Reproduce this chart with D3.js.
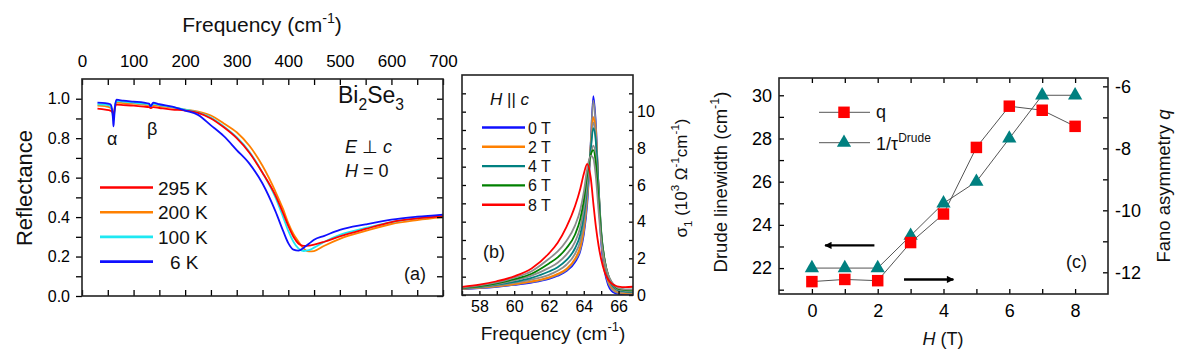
<!DOCTYPE html>
<html>
<head>
<meta charset="utf-8">
<script src="https://cdn.jsdelivr.net/npm/d3@7"></script>
<style>
  body { margin: 0; background: #fff; }
  svg { font-family: "Liberation Sans", Arial, sans-serif; }
</style>
</head>
<body>
<div id="chart--wrapper"></div>
<script>
// (a) reflectance, E perp c, H = 0
const freqA = [30, 45, 55, 58, 60, 61, 62, 64, 67, 80, 100, 120, 130, 133, 135, 138, 150, 175, 200, 225, 250, 275, 300, 325, 350, 375, 390, 400, 410, 420, 430, 440, 450, 470, 500, 550, 600, 650, 700];
const refl295K = [0.95, 0.945, 0.94, 0.935, 0.928, 0.925, 0.93, 0.955, 0.97, 0.968, 0.965, 0.96, 0.957, 0.952, 0.954, 0.957, 0.953, 0.945, 0.94, 0.928, 0.9, 0.855, 0.8, 0.725, 0.625, 0.51, 0.42, 0.355, 0.3, 0.265, 0.254, 0.255, 0.26, 0.275, 0.302, 0.34, 0.375, 0.393, 0.405];
const refl200K = [0.965, 0.962, 0.955, 0.945, 0.92, 0.905, 0.92, 0.965, 0.98, 0.978, 0.975, 0.97, 0.968, 0.958, 0.962, 0.968, 0.963, 0.955, 0.945, 0.935, 0.915, 0.875, 0.83, 0.76, 0.66, 0.53, 0.44, 0.37, 0.315, 0.275, 0.24, 0.226, 0.228, 0.255, 0.29, 0.33, 0.365, 0.385, 0.4];
const refl100K = [0.972, 0.97, 0.963, 0.945, 0.91, 0.89, 0.91, 0.965, 0.988, 0.985, 0.98, 0.975, 0.972, 0.962, 0.965, 0.975, 0.968, 0.958, 0.945, 0.93, 0.905, 0.86, 0.805, 0.73, 0.625, 0.5, 0.4, 0.33, 0.275, 0.24, 0.228, 0.232, 0.245, 0.275, 0.31, 0.345, 0.375, 0.395, 0.408];
const refl6K = [0.98, 0.978, 0.972, 0.95, 0.9, 0.86, 0.89, 0.96, 0.995, 0.99, 0.985, 0.98, 0.975, 0.962, 0.968, 0.98, 0.972, 0.96, 0.94, 0.918, 0.865, 0.81, 0.74, 0.67, 0.57, 0.43, 0.33, 0.268, 0.235, 0.23, 0.245, 0.265, 0.285, 0.305, 0.335, 0.363, 0.387, 0.402, 0.413];
const tempLabels = ["295 K", "200 K", "100 K", "6 K"];

// (b) optical conductivity around the alpha phonon, H || c
const freqB = [57, 58, 59, 60, 61, 62, 62.5, 63, 63.5, 63.8, 64, 64.2, 64.4, 64.55, 64.7, 64.85, 65, 65.2, 65.4, 65.6, 65.8, 66, 66.4, 66.83];
const sigma0T = [0.33, 0.38, 0.45, 0.55, 0.68, 0.88, 1.05, 1.3, 1.8, 2.4, 3.3, 5.0, 8.2, 10.85, 9.2, 5.6, 2.9, 1.3, 0.55, 0.22, 0.1, 0.06, 0.04, 0.03];
const sigma1T = [0.34, 0.39, 0.46, 0.57, 0.71, 0.92, 1.1, 1.36, 1.9, 2.5, 3.45, 5.2, 8.3, 10.6, 9.1, 5.8, 3.1, 1.45, 0.68, 0.33, 0.18, 0.11, 0.08, 0.07];
const sigma2T = [0.35, 0.4, 0.48, 0.6, 0.74, 0.96, 1.15, 1.42, 1.98, 2.65, 3.6, 5.4, 8.1, 9.7, 8.7, 5.9, 3.3, 1.6, 0.8, 0.42, 0.25, 0.16, 0.11, 0.1];
const sigma3T = [0.36, 0.42, 0.52, 0.66, 0.84, 1.1, 1.32, 1.65, 2.25, 2.95, 3.9, 5.6, 8.0, 9.4, 8.5, 5.9, 3.4, 1.72, 0.9, 0.5, 0.3, 0.2, 0.15, 0.13];
const sigma4T = [0.37, 0.44, 0.56, 0.72, 0.94, 1.28, 1.52, 1.9, 2.55, 3.3, 4.3, 5.9, 7.9, 9.1, 8.3, 5.9, 3.5, 1.85, 1.0, 0.58, 0.36, 0.25, 0.19, 0.17];
const sigma5T = [0.38, 0.47, 0.6, 0.8, 1.06, 1.48, 1.76, 2.2, 2.9, 3.7, 4.7, 6.2, 7.6, 8.15, 7.5, 5.5, 3.4, 1.9, 1.06, 0.64, 0.42, 0.29, 0.23, 0.21];
const sigma6T = [0.39, 0.49, 0.64, 0.86, 1.16, 1.72, 2.05, 2.55, 3.3, 4.15, 5.15, 6.6, 7.65, 7.9, 7.1, 5.2, 3.3, 1.9, 1.1, 0.68, 0.46, 0.33, 0.27, 0.25];
const sigma7T = [0.41, 0.52, 0.69, 0.94, 1.3, 1.98, 2.38, 2.95, 3.8, 4.65, 5.6, 6.9, 7.6, 7.45, 6.4, 4.6, 3.0, 1.8, 1.1, 0.72, 0.5, 0.37, 0.31, 0.3];
const sigma8T = [0.44, 0.56, 0.75, 1.02, 1.45, 2.27, 2.85, 3.7, 4.85, 5.8, 6.6, 7.15, 6.4, 5.0, 3.7, 2.7, 1.95, 1.25, 0.85, 0.63, 0.52, 0.46, 0.43, 0.45];
const fieldLabels = ["0 T", "2 T", "4 T", "6 T", "8 T"];

// (c) Drude linewidth and Fano q vs field
const fieldH = [0, 1, 2, 3, 4, 5, 6, 7, 8];
const fanoQ = [-12.3, -12.23, -12.27, -11.04, -10.12, -7.97, -6.64, -6.77, -7.29];
const drudeWidth = [22, 22, 22, 23.5, 25, 26, 28, 30, 30];

const svg = d3.select('#chart--wrapper').append('svg')
    .attr('width', 1181).attr('height', 362);

// small helper: put an axis, drop the domain line (frames are drawn as rects)
function addAxis(axis, tx, ty, size) {
    const g = svg.append('g')
        .attr('transform', 'translate(' + tx + ',' + ty + ')')
        .call(axis);
    g.select('.domain').remove();
    g.attr('font-family', null).attr('font-size', size);
    g.selectAll('line').attr('stroke', '#000').attr('stroke-width', 1.3);
    return g;
}

function frame(x0, x1, y0, y1) {
    svg.append('rect')
        .attr('x', x0).attr('y', y0)
        .attr('width', x1 - x0).attr('height', y1 - y0)
        .attr('fill', 'none').attr('stroke', '#222').attr('stroke-width', 1.6);
}

function addText(x, y, size, parts, opts) {
    opts = opts || {};
    const t = svg.append('text').attr('x', x).attr('y', y)
        .attr('font-size', size).attr('fill', '#111');
    if (opts.rotate) t.attr('transform', 'rotate(-90,' + x + ',' + y + ')');
    if (opts.anchor) t.attr('text-anchor', opts.anchor);
    let shift = 0;
    parts.forEach(function (p) {
        if (typeof p === 'string') p = { t: p };
        const s = t.append('tspan').text(p.t);
        let target = 0;
        if (p.sup) { target = -0.45 * size; s.attr('font-size', size * 0.68); }
        if (p.sub) { target = 0.3 * size; s.attr('font-size', size * 0.68); }
        if (p.size) s.attr('font-size', p.size);
        if (p.i) s.attr('font-style', 'italic');
        if (target !== shift) { s.attr('dy', target - shift); shift = target; }
    });
    return t;
}

// ===================== panel (a) =====================
const xa = d3.scaleLinear().domain([0, 700]).range([82, 443]);
const ya = d3.scaleLinear().domain([0, 1.1]).range([296, 79]);

const lineA = d3.line()
    .x(function (d) { return xa(d[0]); })
    .y(function (d) { return ya(d[1]); })
    .curve(d3.curveMonotoneX);

const seriesA = [
    { v: refl200K, c: '#ff8000' },
    { v: refl100K, c: '#1ee8f2' },
    { v: refl295K, c: '#ff0000' },
    { v: refl6K, c: '#1010ff' }
];
seriesA.forEach(function (s) {
    svg.append('path')
        .datum(freqA.map(function (f, i) { return [f, s.v[i]]; }))
        .attr('fill', 'none').attr('stroke', s.c).attr('stroke-width', 1.8)
        .attr('d', lineA);
});

const aTicks = d3.range(0, 701, 50);
const rTicks = d3.range(0, 11).map(function (i) { return i / 10; });
addAxis(d3.axisTop(xa).tickValues(aTicks).tickSize(-6).tickPadding(12)
    .tickFormat(function (d) { return d % 100 === 0 ? d : ''; }), 0, 79, 17);
addAxis(d3.axisBottom(xa).tickValues(aTicks).tickSize(-6).tickFormat(''), 0, 296, 17);
addAxis(d3.axisLeft(ya).tickValues(rTicks).tickSize(6).tickPadding(6)
    .tickFormat(function (d, i) { return i % 2 ? '' : d.toFixed(1); }), 82, 0, 16);
addAxis(d3.axisRight(ya).tickValues(rTicks).tickSize(-6).tickFormat(''), 443, 0, 16);
frame(82, 443, 79, 296);

addText(262, 32, 21, ['Frequency (cm', { t: '-1', sup: true }, ')'], { anchor: 'middle' });
addText(32, 188, 22, ['Reflectance'], { rotate: true, anchor: 'middle' });
addText(338, 103, 23, ['Bi', { t: '2', sub: true }, 'Se', { t: '3', sub: true }]);
addText(345, 153, 18, [{ t: 'E', i: true }, ' \u22a5 ', { t: 'c', i: true }]);
addText(345, 177, 18, [{ t: 'H', i: true }, ' = 0']);
addText(404, 280, 18, ['(a)']);
addText(107, 145, 18, ['\u03b1']);
addText(147, 135, 18, ['\u03b2']);

// legend (a)
const legColorsA = ['#ff0000', '#ff8000', '#1ee8f2', '#1010ff'];
tempLabels.forEach(function (lab, i) {
    const y = 187.5 + i * 24.7;
    svg.append('line').attr('x1', 100).attr('x2', 153).attr('y1', y).attr('y2', y)
        .attr('stroke', legColorsA[i]).attr('stroke-width', 2.6);
    addText(i === 3 ? 170 : 158, y + 7, 19, [lab]);
});

// ===================== panel (b) =====================
const xb = d3.scaleLinear().domain([57, 66.83]).range([462, 633]);
const yb = d3.scaleLinear().domain([0, 12]).range([295, 75]);

svg.append('clipPath').attr('id', 'clipB').append('rect')
    .attr('x', 462).attr('y', 75).attr('width', 171).attr('height', 220);

const lineB = d3.line()
    .x(function (d) { return xb(d[0]); })
    .y(function (d) { return yb(d[1]); })
    .curve(d3.curveMonotoneX);

const seriesB = [
    { v: sigma0T, c: '#1010ff' },
    { v: sigma1T, c: '#8c8c8c' },
    { v: sigma2T, c: '#ff8000' },
    { v: sigma3T, c: '#8c8c8c' },
    { v: sigma4T, c: '#008080' },
    { v: sigma5T, c: '#8c8c8c' },
    { v: sigma6T, c: '#008000' },
    { v: sigma7T, c: '#8c8c8c' },
    { v: sigma8T, c: '#ff0000' }
];
seriesB.forEach(function (s) {
    svg.append('path')
        .datum(freqB.map(function (f, i) { return [f, s.v[i]]; }))
        .attr('clip-path', 'url(#clipB)')
        .attr('fill', 'none').attr('stroke', s.c).attr('stroke-width', 1.8)
        .attr('d', lineB);
});

const bxTicks = d3.range(57, 67);
const byTicks = d3.range(0, 12);
addAxis(d3.axisBottom(xb).tickValues(bxTicks).tickSize(-4).tickPadding(6)
    .tickFormat(function (d) { return d % 2 === 0 ? d : ''; }), 0, 295, 16);
addAxis(d3.axisLeft(yb).tickValues(byTicks).tickSize(-4).tickFormat(''), 462, 0, 16);
addAxis(d3.axisRight(yb).tickValues(byTicks).tickSize(-4).tickPadding(4)
    .tickFormat(function (d) { return d % 2 === 0 ? d : ''; }), 633, 0, 16);
frame(462, 633, 75, 295);

addText(553, 340, 19, ['Frequency (cm', { t: '-1', sup: true }, ')'], { anchor: 'middle' });
addText(687, 178, 17, ['\u03c3', { t: '1', sub: true }, ' (10', { t: '3', sup: true }, ' \u03a9', { t: '-1', sup: true }, 'cm', { t: '-1', sup: true }, ')'],
    { rotate: true, anchor: 'middle' });
addText(490, 105, 17, [{ t: 'H', i: true }, ' || ', { t: 'c', i: true }]);
addText(483, 258, 18, ['(b)']);

const legColorsB = ['#1010ff', '#ff8000', '#008080', '#008000', '#ff0000'];
fieldLabels.forEach(function (lab, i) {
    const y = 127.5 + i * 19.3;
    svg.append('line').attr('x1', 482).attr('x2', 525).attr('y1', y).attr('y2', y)
        .attr('stroke', legColorsB[i]).attr('stroke-width', 2.4);
    addText(528, y + 6, 16, [lab]);
});

// ===================== panel (c) =====================
const xc = d3.scaleLinear().domain([-1, 9]).range([779, 1108]);
const ycL = d3.scaleLinear().domain([20.8, 30.8]).range([294, 78]);
const ycR = d3.scaleLinear().domain([-12.7, -5.73]).range([294, 78]);

const cxTicks = d3.range(0, 9);
addAxis(d3.axisBottom(xc).tickValues(cxTicks).tickSize(-5).tickPadding(10)
    .tickFormat(function (d) { return d % 2 === 0 ? d : ''; }), 0, 294, 18);
addAxis(d3.axisTop(xc).tickValues(cxTicks).tickSize(-5).tickFormat(''), 0, 78, 18);
addAxis(d3.axisLeft(ycL).tickValues(d3.range(21, 31)).tickSize(-5).tickPadding(7)
    .tickFormat(function (d) { return d % 2 === 0 ? d : ''; }), 779, 0, 18);
addAxis(d3.axisRight(ycR).tickValues(d3.range(-12, -5)).tickSize(-5).tickPadding(7)
    .tickFormat(function (d) { return d % 2 === 0 ? d : ''; }), 1108, 0, 18);

const lineQ = d3.line()
    .x(function (d, i) { return xc(fieldH[i]); })
    .y(function (d) { return ycR(d); });
const lineW = d3.line()
    .x(function (d, i) { return xc(fieldH[i]); })
    .y(function (d) { return ycL(d); });

svg.append('path').datum(fanoQ).attr('d', lineQ)
    .attr('fill', 'none').attr('stroke', '#555').attr('stroke-width', 1);
svg.append('path').datum(drudeWidth).attr('d', lineW)
    .attr('fill', 'none').attr('stroke', '#555').attr('stroke-width', 1);

const sq = d3.symbol().type(d3.symbolSquare).size(132);
const tri = d3.symbol().type(d3.symbolTriangle).size(88);

svg.append('g').selectAll('path').data(drudeWidth).join('path')
    .attr('d', tri)
    .attr('transform', function (d, i) { return 'translate(' + xc(fieldH[i]) + ',' + ycL(d) + ')'; })
    .attr('fill', '#008080');
svg.append('g').selectAll('path').data(fanoQ).join('path')
    .attr('d', sq)
    .attr('transform', function (d, i) { return 'translate(' + xc(fieldH[i]) + ',' + ycR(d) + ')'; })
    .attr('fill', '#ff0000');

frame(779, 1108, 78, 294);

// arrows pointing to the axis each series belongs to
const defs = svg.append('defs');
defs.append('marker').attr('id', 'arr').attr('viewBox', '0 0 10 10')
    .attr('refX', 9).attr('refY', 5).attr('markerWidth', 4).attr('markerHeight', 3)
    .attr('orient', 'auto')
    .append('path').attr('d', 'M0,0 L10,5 L0,10 z').attr('fill', '#000');
svg.append('line')
    .attr('x1', xc(1.9)).attr('x2', xc(0.4)).attr('y1', ycL(23.05)).attr('y2', ycL(23.05))
    .attr('stroke', '#000').attr('stroke-width', 2.4).attr('marker-end', 'url(#arr)');
svg.append('line')
    .attr('x1', xc(2.8)).attr('x2', xc(4.3)).attr('y1', ycR(-12.23)).attr('y2', ycR(-12.23))
    .attr('stroke', '#000').attr('stroke-width', 2.4).attr('marker-end', 'url(#arr)');

// legend (c)
[112.3, 142.7].forEach(function (y, i) {
    svg.append('line').attr('x1', 819).attr('x2', 870).attr('y1', y).attr('y2', y)
        .attr('stroke', '#555').attr('stroke-width', 1);
    svg.append('path').attr('d', i === 0 ? sq : tri)
        .attr('transform', 'translate(844,' + y + ')')
        .attr('fill', i === 0 ? '#ff0000' : '#008080');
});
addText(876, 118, 18, ['q']);
addText(876, 150, 18, ['1/\u03c4', { t: 'Drude', sup: true, size: 12 }]);

addText(943, 345, 18, [{ t: 'H', i: true }, ' (T)'], { anchor: 'middle' });
addText(727, 182, 18.5, ['Drude linewidth (cm', { t: '-1', sup: true }, ')'], { rotate: true, anchor: 'middle' });
addText(1170, 186, 18.5, ['Fano asymmetry ', { t: 'q', i: true }], { rotate: true, anchor: 'middle' });
addText(1066, 268, 18, ['(c)']);
</script>
</body>
</html>
